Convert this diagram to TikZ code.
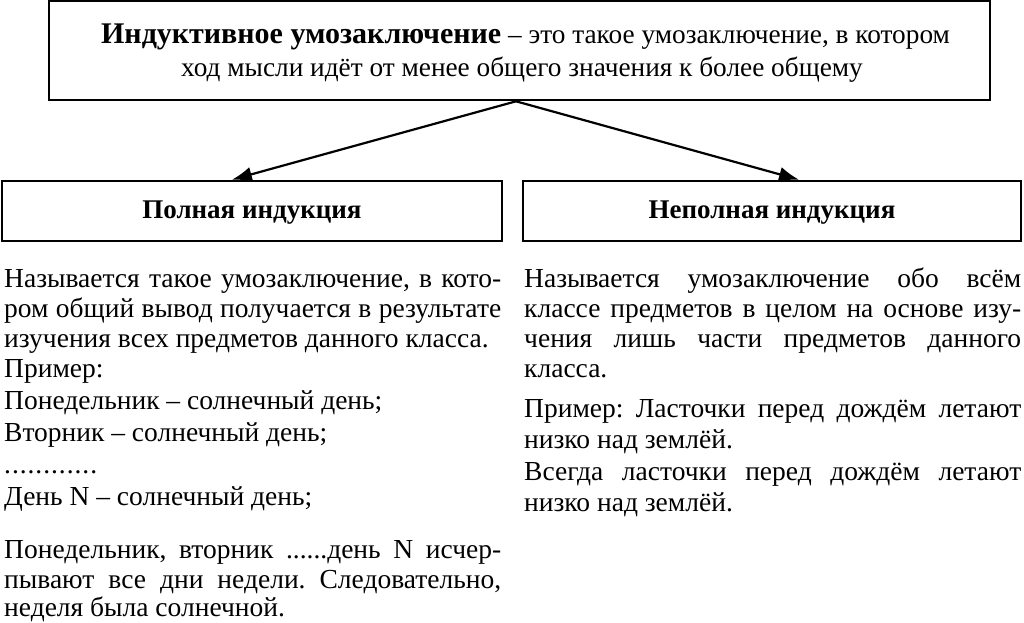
\documentclass[tikz,border=0pt]{standalone}
\usepackage{fontspec}
\setmainfont{Liberation Serif}
\usetikzlibrary{arrows.meta,calc}
\frenchspacing
\begin{document}
\frenchspacing
\begin{tikzpicture}[x=1pt,y=-1pt,
  box/.style={draw, line width=2.6pt, inner sep=0pt},
  txt/.style={anchor=base west, inner sep=0pt, font=\fontsize{27.5}{30}\selectfont},
  ctxt/.style={anchor=base, inner sep=0pt, font=\fontsize{27.3}{30}\selectfont},
  lbl/.style={anchor=base, inner sep=0pt, font=\fontsize{27}{30}\selectfont\bfseries},
  conn/.style={line width=2.2pt, -{Latex[length=20pt,width=15pt]}}]
\useasboundingbox (0,0) rectangle (1024,622);
\fill[white] (0,0) rectangle (1024,622);
% boxes
\node[box, minimum width=941pt, minimum height=99pt] (top) at (519.5,50.5) {};
\node[box, minimum width=500pt, minimum height=60pt] (lb) at (252,211) {};
\node[box, minimum width=498pt, minimum height=60pt] (rb) at (772,211) {};
% top text
\node[ctxt] (t1) at (525.5,43) {{\fontsize{30}{30}\selectfont\bfseries Индуктивное умозаключение} – это такое умозаключение, в котором};
\node[ctxt] (t2) at (522,76) {ход мысли идёт от менее общего значения к более общему};
% labels
\node[lbl] (ll) at (252,218) {Полная индукция};
\node[lbl] (rl) at (772,218) {Неполная индукция};
% arrows
\coordinate (o) at ($(top.south west)!0.4963!(top.south east)$);
\draw[conn] (o) -- ($(lb.north west)!0.46!(lb.north east)$);
\draw[conn] (o) -- ($(rb.north west)!0.554!(rb.north east)$);
% left column
\node[txt] (l1) at (4,287) {\makebox[497pt][s]{Называется такое умозаключение, в кото-}};
\node[txt] (l2) at (4,317) {\makebox[497pt][s]{ром общий вывод получается в результате}};
\node[txt] (l3) at (4,347) {изучения всех предметов данного класса.};
\node[txt] (l4) at (4,377) {Пример:};
\node[txt] (l5) at (4,409) {Понедельник – солнечный день;};
\node[txt] (l6) at (4,441) {Вторник – солнечный день;};
\node[txt] (l7) at (4,473) {\hbox to 93pt{.\hfil.\hfil.\hfil.\hfil.\hfil.\hfil.\hfil.\hfil.\hfil.\hfil.\hfil.}};
\node[txt] (l8) at (4,505) {День N – солнечный день;};
\node[txt] (l9) at (4,558) {\makebox[497pt][s]{Понедельник, вторник ......день N исчер-}};
\node[txt] (l10) at (4,588) {\makebox[497pt][s]{пывают все дни недели. Следовательно,}};
\node[txt] (l11) at (4,616) {неделя была солнечной.};
% right column
\node[txt] (r1) at (524,287) {\makebox[497pt][s]{Называется умозаключение обо всём}};
\node[txt] (r2) at (524,317) {\makebox[497pt][s]{классе предметов в целом на основе изу-}};
\node[txt] (r3) at (524,347) {\makebox[497pt][s]{чения лишь части предметов данного}};
\node[txt] (r4) at (524,377) {класса.};
\node[txt] (r5) at (524,417) {\makebox[497pt][s]{Пример: Ласточки перед дождём летают}};
\node[txt] (r6) at (524,448) {низко над землёй.};
\node[txt] (r7) at (524,480) {\makebox[497pt][s]{Всегда ласточки перед дождём летают}};
\node[txt] (r8) at (524,511) {низко над землёй.};
\end{tikzpicture}
\end{document}
